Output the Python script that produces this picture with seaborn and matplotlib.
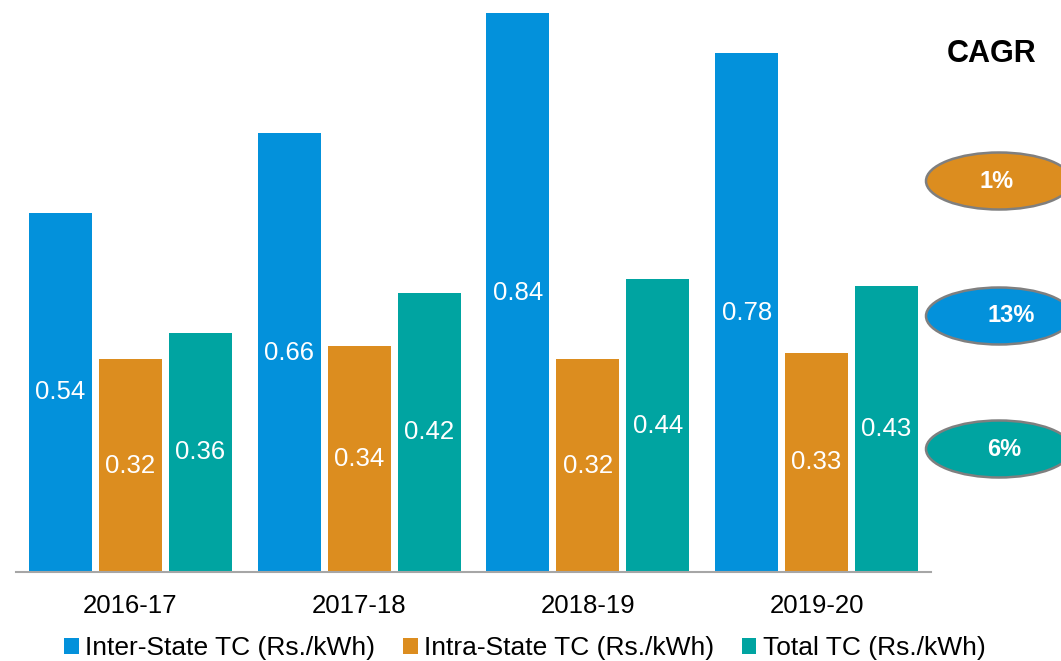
import seaborn as sns
import matplotlib.pyplot as plt
import pandas as pd
from matplotlib.patches import Ellipse, Patch

# données
years = ["2016-17", "2017-18", "2018-19", "2019-20"]
inter_state = [0.54, 0.66, 0.84, 0.78]
intra_state = [0.32, 0.34, 0.32, 0.33]
total_tc = [0.36, 0.42, 0.44, 0.43]
series = ["Inter-State TC (Rs./kWh)", "Intra-State TC (Rs./kWh)", "Total TC (Rs./kWh)"]
cagr = ["1%", "13%", "6%"]

colors = ["#0391DB", "#DC8D1F", "#00A4A1"]
cagr_colors = ["#DC8D1F", "#0391DB", "#00A4A1"]

df = pd.DataFrame({
    "year": years * 3,
    "value": inter_state + intra_state + total_tc,
    "series": [series[0]] * 4 + [series[1]] * 4 + [series[2]] * 4,
})

sns.set_style("white")
plt.rcParams["font.family"] = ["Liberation Sans", "DejaVu Sans"]
plt.rcParams["text.color"] = "black"
plt.rcParams["xtick.color"] = "black"

fig = plt.figure(figsize=(10.61, 6.61), dpi=100)
ax = fig.add_axes([16 / 1061, 89 / 661, 915 / 1061, 572 / 661])

sns.barplot(data=df, x="year", y="value", hue="series", hue_order=series,
            palette=colors, width=0.918, gap=0.1, saturation=1, ax=ax,
            linewidth=0, legend=False)

for c in ax.containers:
    ax.bar_label(c, fmt="%.2f", label_type="center", color="white", fontsize=18.5)

ax.set_ylim(0, 0.86)
ax.set_xlim(-0.5, 3.5)
ax.set_xlabel("")
ax.set_ylabel("")
ax.set_yticks([])
ax.tick_params(axis="x", length=0, labelsize=18.5, pad=16, labelcolor="black")
for s in ["top", "right", "left"]:
    ax.spines[s].set_visible(False)
ax.spines["bottom"].set_color("#A6A6A6")
ax.spines["bottom"].set_linewidth(1.5)

# légende
handles = [Patch(facecolor=c, edgecolor="none") for c in colors]
fig.legend(handles, series, loc="center", bbox_to_anchor=(525 / 1061, 1 - 648 / 661),
           ncol=3, frameon=False, fontsize=19, handlelength=0.55, handleheight=0.55,
           handletextpad=0.25, columnspacing=1.05, borderpad=0)

# CAGR
fig.text(992 / 1061, 1 - 54 / 661, "CAGR", ha="center", va="center",
         fontsize=22, fontweight="bold", color="black")
ycen = [181, 316, 449]
xtxt = [997, 1011, 1004]
for i, (txt, col) in enumerate(zip(cagr, cagr_colors)):
    cy = 1 - ycen[i] / 661
    e = Ellipse((999 / 1061, cy), 146 / 1061, 57 / 661, transform=fig.transFigure,
                facecolor=col, edgecolor="#7F7F7F", linewidth=1.8)
    fig.add_artist(e)
    fig.text(xtxt[i] / 1061, cy, txt, ha="center", va="center", color="white",
             fontsize=17, fontweight="bold")

plt.savefig("out.png", dpi=100)
